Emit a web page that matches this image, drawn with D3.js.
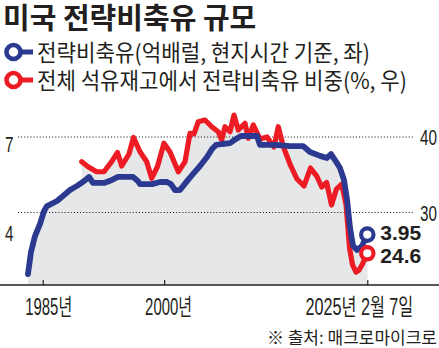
<!DOCTYPE html>
<html>
<head>
<meta charset="utf-8">
<script src="https://cdn.jsdelivr.net/npm/d3@7"></script>
<style>
  html, body { margin: 0; padding: 0; background: #fff; }
  svg { display: block; }
  .kr { font-family: "Noto Sans CJK KR", "Noto Sans", sans-serif; }
  .num { font-family: "Liberation Sans", Arial, sans-serif; }
  .mix { font-family: "Liberation Sans", "Noto Sans CJK KR", sans-serif; }
</style>
</head>
<body>
<svg id="chart" width="439" height="348"></svg>
<script>
// US Strategic Petroleum Reserve: volume (100M barrels, left) and its share of total US oil stocks (%, right)
const title = "미국 전략비축유 규모";
const legendLabels = ["전략비축유(억배럴, 현지시간 기준, 좌)", "전체 석유재고에서 전략비축유 비중(%, 우)"];
const sourceText = "※ 출처: 매크로마이크로";

const sprYears = [1983.18, 1983.55, 1984.05, 1984.67, 1985.16, 1985.53, 1986.77, 1987.63, 1988.37, 1989.24,
  1990.10, 1990.72, 1991.21, 1992.57, 1993.56, 1994.30, 1996.16, 1996.77, 1997.02, 1998.50,
  1999.49, 2000.36, 2000.85, 2001.35, 2001.96, 2002.83, 2003.57, 2004.43, 2005.30, 2005.92,
  2006.41, 2007.15, 2008.14, 2008.88, 2009.50, 2011.47, 2011.84, 2013.70, 2015.55, 2017.16,
  2018.02, 2019.26, 2020.12, 2020.62, 2021.11, 2021.73, 2022.22, 2022.60, 2022.97, 2023.34,
  2023.83, 2024.45, 2025.10];
const sprValues = [2.62, 3.36, 3.90, 4.31, 4.74, 4.91, 5.08, 5.28, 5.45, 5.59,
  5.75, 5.89, 5.69, 5.69, 5.79, 5.89, 5.89, 5.75, 5.65, 5.65,
  5.72, 5.72, 5.65, 5.45, 5.45, 5.75, 5.99, 6.26, 6.56, 6.83,
  6.97, 7.00, 7.03, 7.17, 7.27, 7.27, 6.97, 6.97, 6.93, 6.93,
  6.73, 6.60, 6.53, 6.66, 6.46, 6.19, 5.79, 5.12, 4.17, 3.57,
  3.43, 3.57, 3.95];

const shareYears = [1989.82, 1990.60, 1991.67, 1992.57, 1993.52, 1994.24, 1994.76, 1995.66, 1996.22, 1997.02,
  1997.85, 1998.46, 1999.18, 1999.98, 2000.73, 2001.75, 2002.58, 2003.20, 2003.69, 2004.22,
  2005.05, 2005.88, 2006.69, 2007.11, 2007.52, 2008.14, 2008.63, 2009.16, 2009.99, 2010.40,
  2011.02, 2011.84, 2012.71, 2013.57, 2014.10, 2014.72, 2015.55, 2016.41, 2017.28, 2018.08,
  2018.85, 2019.47, 2020.08, 2020.68, 2021.29, 2021.94, 2022.48, 2022.91, 2023.28, 2023.71,
  2024.07, 2024.45, 2025.10];
const shareValues = [36.73, 36.07, 35.40, 35.40, 36.73, 37.95, 36.16, 37.75, 39.93, 38.05,
  36.73, 34.53, 36.09, 39.17, 38.01, 35.40, 36.73, 40.49, 40.40, 42.03,
  42.25, 41.36, 40.70, 39.60, 41.36, 40.70, 42.91, 40.93, 41.81, 39.83,
  41.59, 39.74, 40.00, 38.68, 41.36, 38.72, 36.42, 34.44, 33.51, 35.89,
  34.83, 33.38, 33.97, 30.99, 33.11, 33.77, 31.00, 25.30, 23.05, 22.10,
  22.38, 23.05, 24.60];

const xTickValues = [1985, 2000, 2025.10];
const xTickLabels = ["1985년", "2000년", "2025년 2월 7일"];
const leftTicks = [4, 7];
const rightTicks = [30, 40];

const blue = "#2b3990", red = "#ed1c24", ink = "#231f20", fill = "#e6e7e9";

const svg = d3.select("#chart");
const baseY = 285;

const x = d3.scaleLinear().domain([1985, 2025.10]).range([42.7, 367.3]);
const yL = d3.scaleLinear().domain([4, 7]).range([233.1, 144.0]);
const yR = d3.scaleLinear().domain([30, 40]).range([212.5, 137]);

const spr = sprYears.map((t, i) => ({ t, v: sprValues[i] }));
const share = shareYears.map((t, i) => ({ t, v: shareValues[i] }));

// Narrow text: draw at natural size, then squeeze horizontally to a target width.
function narrowText(parent, cls, str, size, weight, px, py, width, anchor) {
  const t = parent.append("text").attr("class", cls)
    .attr("font-size", size).attr("font-weight", weight).attr("fill", ink)
    .attr("text-anchor", anchor || "start").text(str);
  const natural = t.node().getComputedTextLength();
  const sx = Math.min(1, width / natural);
  t.attr("transform", `translate(${px},${py}) scale(${sx},1)`);
  return t;
}

// grey fill under both series
svg.append("path").datum(spr).attr("fill", fill)
  .attr("d", d3.area().x(d => x(d.t)).y0(baseY).y1(d => yL(d.v)));
svg.append("path").datum(share).attr("fill", fill)
  .attr("d", d3.area().x(d => x(d.t)).y0(baseY).y1(d => yR(d.v)));

// dotted gridlines (right axis)
svg.append("g").selectAll("line").data(rightTicks).join("line")
  .attr("x1", 18).attr("x2", 413)
  .attr("y1", d => yR(d)).attr("y2", d => yR(d))
  .attr("stroke", ink).attr("stroke-width", 1.1).attr("stroke-dasharray", "1.1,2");

// axis labels, left and right
leftTicks.forEach(v => narrowText(svg, "num", String(v), 22, 400, 5, yL(v) + 8, 8.5));
rightTicks.forEach(v => narrowText(svg, "num", String(v), 22, 400, 420, yR(v) + 8, 17));

// x axis: baseline with ticks pointing up
const xAxis = d3.axisBottom(x).tickValues(xTickValues).tickSizeInner(-5).tickSizeOuter(0).tickFormat("");
const gx = svg.append("g").attr("transform", `translate(0,${baseY})`).call(xAxis);
gx.select(".domain").remove();
gx.selectAll(".tick line").attr("stroke", ink).attr("stroke-width", 1.2);
svg.append("line").attr("x1", 0).attr("x2", 439).attr("y1", baseY).attr("y2", baseY)
  .attr("stroke", ink).attr("stroke-width", 1.4);

// x tick labels (year centred on the tick, the last one anchored to the right)
const labelLayout = [
  { anchor: "start", dx: -17.5, len: 47 },
  { anchor: "start", dx: -19, len: 47 },
  { anchor: "end", dx: 46, len: 108 }
];
xTickValues.forEach((t, i) => {
  const L = labelLayout[i];
  narrowText(svg, "mix", xTickLabels[i], 23, 400, x(t) + L.dx, 315, L.len, L.anchor);
});

// series lines
const lineGen = yS => d3.line().x(d => x(d.t)).y(d => yS(d.v));
svg.append("path").datum(share).attr("fill", "none").attr("stroke", red)
  .attr("stroke-width", 5.2).attr("stroke-linejoin", "round").attr("stroke-linecap", "round")
  .attr("d", lineGen(yR));
svg.append("path").datum(spr).attr("fill", "none").attr("stroke", blue)
  .attr("stroke-width", 5.8).attr("stroke-linejoin", "round").attr("stroke-linecap", "round")
  .attr("d", lineGen(yL));

// end markers and value labels
const lastSpr = spr[spr.length - 1], lastShare = share[share.length - 1];
svg.append("circle").attr("cx", x(lastShare.t)).attr("cy", yR(lastShare.v)).attr("r", 6.2)
  .attr("fill", "#fff").attr("stroke", red).attr("stroke-width", 4.2);
svg.append("circle").attr("cx", x(lastSpr.t)).attr("cy", yL(lastSpr.v)).attr("r", 6.2)
  .attr("fill", "#fff").attr("stroke", blue).attr("stroke-width", 4.2);
svg.append("text").attr("class", "num").attr("x", x(lastSpr.t) + 13).attr("y", yL(lastSpr.v) + 5.5)
  .attr("font-size", 21).attr("font-weight", 700).attr("fill", ink)
  .text(d3.format(".2f")(lastSpr.v));
svg.append("text").attr("class", "num").attr("x", x(lastShare.t) + 13).attr("y", yR(lastShare.v) + 10)
  .attr("font-size", 21).attr("font-weight", 700).attr("fill", ink)
  .text(d3.format(".1f")(lastShare.v));

// title
narrowText(svg, "kr", title, 29, 700, 3, 29, 255);

// legend
const legendRows = [
  { color: blue, y: 52, len: 333 },
  { color: red, y: 80, len: 370 }
];
legendRows.forEach((r, i) => {
  svg.append("line").attr("x1", 18).attr("x2", 33).attr("y1", r.y).attr("y2", r.y)
    .attr("stroke", r.color).attr("stroke-width", 5);
  svg.append("circle").attr("cx", 13.5).attr("cy", r.y).attr("r", 7)
    .attr("fill", "#fff").attr("stroke", r.color).attr("stroke-width", 4.6);
  narrowText(svg, "kr", legendLabels[i], 22.5, 400, 37, r.y + 9, r.len);
});

// source
narrowText(svg, "kr", sourceText, 17, 400, 437, 344, 185, "end");
</script>
</body>
</html>
